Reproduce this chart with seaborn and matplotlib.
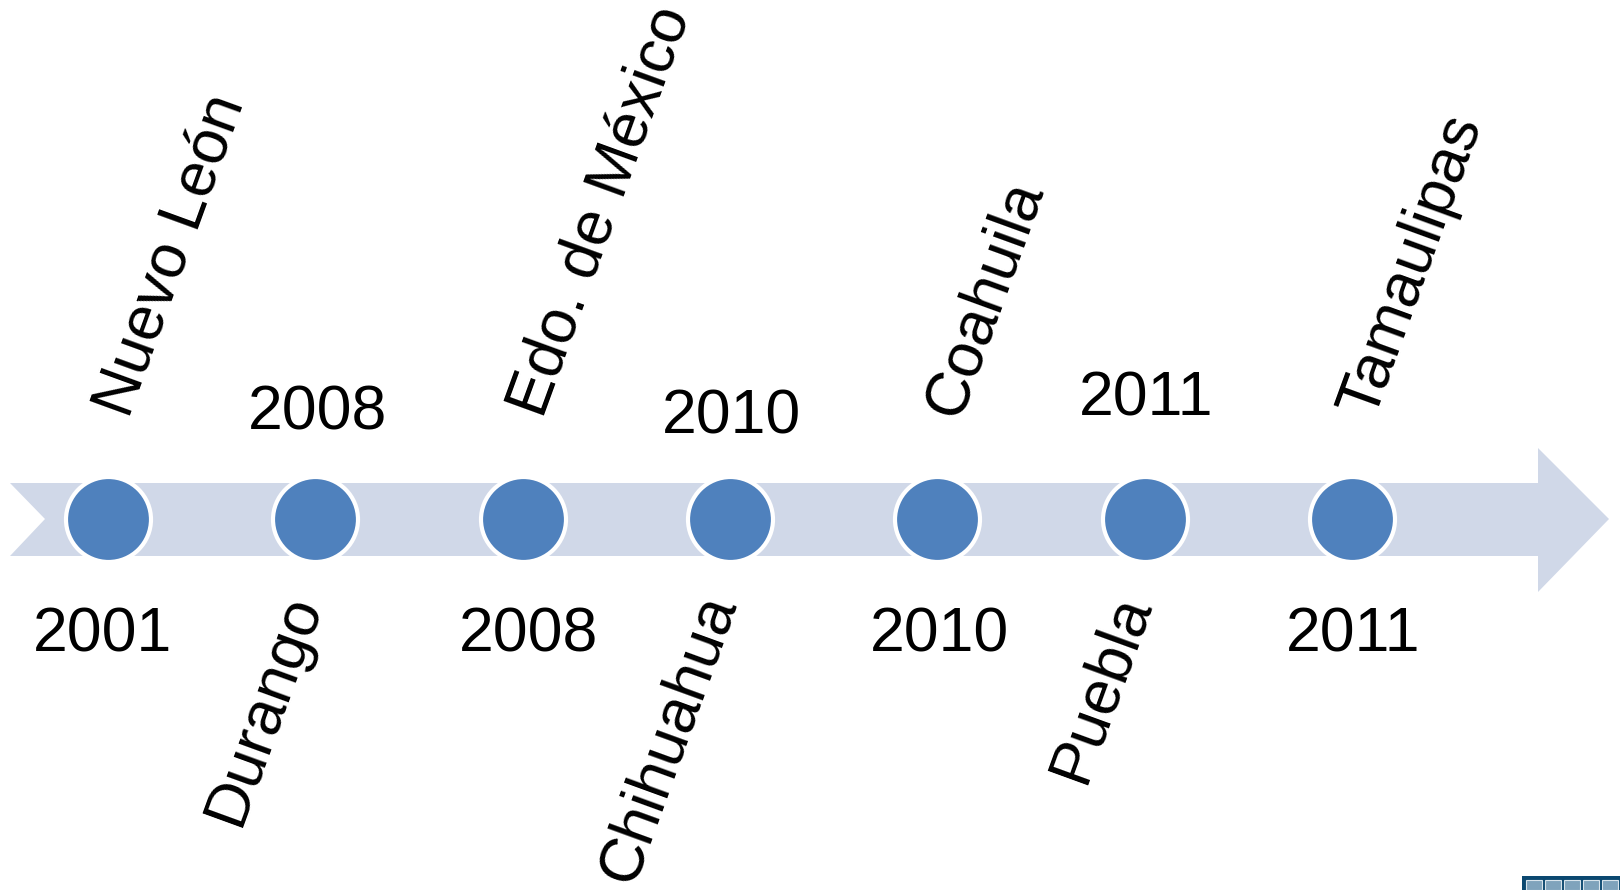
import pandas as pd
import matplotlib.pyplot as plt
import seaborn as sns
from matplotlib.patches import Polygon, Rectangle

# Datos de la línea de tiempo
estados = ['Nuevo León', 'Durango', 'Edo. de México', 'Chihuahua',
           'Coahuila', 'Puebla', 'Tamaulipas']
anios = ['2001', '2008', '2008', '2010', '2010', '2011', '2011']
# lado donde va el nombre del estado: 'arriba' o 'abajo'
lado_estado = ['arriba', 'abajo', 'arriba', 'abajo', 'arriba', 'abajo', 'arriba']

df = pd.DataFrame({'idx': range(len(estados)), 'estado': estados,
                   'anio': anios, 'lado': lado_estado})
df['y'] = 0.0

# =========================================================
# Configuración
# =========================================================
sns.set_theme(style='white')
plt.rcParams['font.family'] = ['Liberation Sans', 'DejaVu Sans']

W, H = 1620, 890
U = 207.3          # píxeles por unidad (distancia entre eventos)
X0, Y0 = 108, 519  # píxel del primer evento


def px(x, y):
    # píxel -> coordenadas de datos
    return (x - X0) / U, (Y0 - y) / U


COLOR_BANDA = '#D0D8E8'
COLOR_PUNTO = '#4F81BD'
FS = 45

fig = plt.figure(figsize=(W / 100, H / 100), dpi=100)
ax = fig.add_axes([0, 0, 1, 1])
ax.set_xlim(px(0, 0)[0], px(W, 0)[0])
ax.set_ylim(px(0, H)[1], px(0, 0)[1])
ax.axis('off')

# Flecha de fondo
flecha = [px(10, 483), px(1538, 483), px(1538, 448), px(1609, 519),
          px(1538, 592), px(1538, 556), px(10, 556), px(45, 519)]
ax.add_patch(Polygon(flecha, closed=True, facecolor=COLOR_BANDA,
                     edgecolor='none', zorder=1))

# Puntos
sns.scatterplot(data=df, x='idx', y='y', s=3745, color=COLOR_PUNTO,
                edgecolor='white', linewidth=3.0, ax=ax, zorder=3,
                legend=False)
ax.set_xlabel('')
ax.set_ylabel('')

# pequeños ajustes de posición de los años (píxeles)
base_anio_arriba = {1: 429, 3: 434, 5: 415}
dx_anio_abajo = {0: -5, 2: 6, 4: 2, 6: 1}

for _, row in df.iterrows():
    i = row['idx']
    cx = X0 + i * U
    if row['lado'] == 'arriba':
        x, y = px(cx - 22, 424)
        ax.text(x, y, row['estado'], fontsize=FS, rotation=70,
                ha='left', va='bottom', color='black', zorder=4)
        x, y = px(cx + dx_anio_abajo.get(i, 0), 651)
        ax.text(x, y, row['anio'], fontsize=FS, ha='center',
                va='baseline', color='black', zorder=4)
    else:
        x, y = px(cx + 18, 586)
        ax.text(x, y, row['estado'], fontsize=FS, rotation=70,
                ha='right', va='top', color='black', zorder=4)
        x, y = px(cx + 2, base_anio_arriba.get(i, 426))
        ax.text(x, y, row['anio'], fontsize=FS, ha='center',
                va='baseline', color='black', zorder=4)

# Logo recortado en la esquina inferior derecha
x, y = px(1522, 890)
ax.add_patch(Rectangle((x, y), 100 / U, 14 / U, facecolor='#0B4870',
                       edgecolor='none', zorder=5))
for k in range(5):
    x, y = px(1526 + k * 19, 890)
    ax.add_patch(Rectangle((x, y), 16 / U, 10 / U, facecolor='#7FA3BC',
                           edgecolor='#D8E4EC', linewidth=0.8, zorder=6))

fig.savefig('out.png', dpi=100, facecolor='white')
plt.close(fig)
